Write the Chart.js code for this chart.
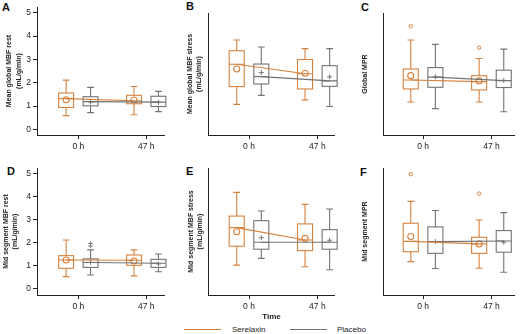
<!DOCTYPE html>
<html>
<head>
<meta charset="utf-8">
<script src="https://cdn.jsdelivr.net/npm/chart.js@4"></script>
<style>
  body { margin: 0; background: #fff; }
  #wrap { position: relative; width: 520px; height: 334px; overflow: hidden; font-family: "Liberation Sans", Arial, sans-serif; }
  canvas { position: absolute; }
  .letter { position: absolute; font-weight: bold; font-size: 11px; line-height: 11px; color: #111; }
  .key { position: absolute; height: 1px; }
  .keytext { position: absolute; font-size: 8px; line-height: 8px; color: #222; }
</style>
</head>
<body>
<div id="wrap">
  <div class="letter" style="left:2px;top:2px">A</div>
  <div class="letter" style="left:186px;top:1px">B</div>
  <div class="letter" style="left:361px;top:2px">C</div>
  <div class="letter" style="left:7px;top:166px">D</div>
  <div class="letter" style="left:186px;top:166px">E</div>
  <div class="letter" style="left:360px;top:167px">F</div>
  <div class="key" style="left:184px;top:329px;width:37px;background:#d6823f"></div>
  <div class="keytext" style="left:232px;top:326px">Serelaxin</div>
  <div class="key" style="left:290px;top:329px;width:37px;background:#737373"></div>
  <div class="keytext" style="left:337px;top:326px">Placebo</div>
</div>
<script>
var timeLabels = ['0 h', '47 h'];
var yTickValues = [0, 1, 2, 3, 4, 5];

// box stats per time point: [lower whisker, Q1, median, Q3, upper whisker]
var restSer = [[0.59, 0.94, 1.32, 1.56, 2.11], [0.63, 1.10, 1.23, 1.46, 1.84]];
var restPla = [[0.72, 1.01, 1.19, 1.40, 1.80], [0.76, 0.98, 1.17, 1.42, 1.63]];
var restSerMean = [1.27, 1.26];
var restPlaMean = [1.17, 1.16];

var stressSer = [[1.05, 1.80, 2.74, 3.31, 3.76], [1.24, 1.70, 2.34, 2.94, 3.40]];
var stressPla = [[1.43, 1.91, 2.22, 2.75, 3.47], [0.96, 1.81, 2.04, 2.68, 3.40]];
var stressSerMean = [2.54, 2.36];
var stressPlaMean = [2.39, 2.21];

var mprSer = [[1.15, 1.70, 2.08, 2.54, 3.76], [1.15, 1.66, 2.01, 2.26, 2.98]];
var mprPla = [[0.87, 1.77, 2.20, 2.60, 3.58], [0.74, 1.76, 2.05, 2.49, 3.38]];
var mprSerMean = [2.26, 2.04];
var mprPlaMean = [2.21, 2.06];
var mprSerOut = [[4.34], [3.44]];

var midRestSer = [[0.51, 0.87, 1.23, 1.42, 2.10], [0.54, 1.00, 1.22, 1.45, 1.67]];
var midRestPla = [[0.58, 0.91, 1.12, 1.28, 1.67], [0.72, 0.91, 1.09, 1.26, 1.49]];
var midRestSerMean = [1.23, 1.19];
var midRestPlaMean = [1.13, 1.06];
var midRestPlaOut = [[1.84, 1.95], []];

var midStressSer = [[1.01, 1.83, 2.64, 3.14, 4.17], [0.94, 1.64, 2.10, 2.80, 3.65]];
var midStressPla = [[1.30, 1.70, 2.00, 2.94, 3.36], [0.81, 1.70, 2.00, 2.55, 3.45]];
var midStressSerMean = [2.46, 2.17];
var midStressPlaMean = [2.20, 2.09];

var midMprSer = [[1.16, 1.59, 2.04, 2.83, 3.78], [0.87, 1.52, 1.93, 2.22, 2.97]];
var midMprPla = [[0.86, 1.52, 2.03, 2.67, 3.38], [0.70, 1.57, 2.06, 2.51, 3.29]];
var midMprSerMean = [2.25, 1.93];
var midMprPlaMean = [2.03, 2.00];
var midMprSerOut = [[4.96], [4.12]];

var noOut = [[], []];

var ORANGE = '#d6823f';
var GRAY = '#737373';
var AXIS = '#222';
var SHIFT = 0.18;     // group offset from the time tick
var HALF = 0.11;      // half box width (x units)

Chart.defaults.font.family = '"Liberation Sans", Arial, sans-serif';

var panels = [
  { ser: restSer, pla: restPla, serMean: restSerMean, plaMean: restPlaMean, serOut: noOut, plaOut: noOut,
    title: ['Mean global MBF rest', '(mL/g/min)'], ticks: true },
  { ser: stressSer, pla: stressPla, serMean: stressSerMean, plaMean: stressPlaMean, serOut: noOut, plaOut: noOut,
    title: ['Mean global MBF stress', '(mL/g/min)'], ticks: false },
  { ser: mprSer, pla: mprPla, serMean: mprSerMean, plaMean: mprPlaMean, serOut: mprSerOut, plaOut: noOut,
    title: 'Global MPR', ticks: false },
  { ser: midRestSer, pla: midRestPla, serMean: midRestSerMean, plaMean: midRestPlaMean, serOut: noOut, plaOut: midRestPlaOut,
    title: ['Mid segment MBF rest', '(mL/g/min)'], ticks: true },
  { ser: midStressSer, pla: midStressPla, serMean: midStressSerMean, plaMean: midStressPlaMean, serOut: noOut, plaOut: noOut,
    title: ['Mid segment MBF stress', '(mL/g/min)'], ticks: false, xTitle: 'Time' },
  { ser: midMprSer, pla: midMprPla, serMean: midMprSerMean, plaMean: midMprPlaMean, serOut: midMprSerOut, plaOut: noOut,
    title: 'Mid segment MPR', ticks: false }
];

// canvas placement and axis geometry per panel
var layouts = [
  { left: 0,   top: 0,   w: 170, h: 155, yW: 37, padTop: 5,  padRight: 3, xH: 20, xMin: -0.609, xMax: 1.275, yMin: -0.24, yMax: 5.24, tPad: 5 },
  { left: 170, top: 0,   w: 170, h: 155, yW: 38, padTop: 13, padRight: 2, xH: 20, xMin: -0.6,   xMax: 1.257, yMin: -0.24, yMax: 4.90, tPad: 15.5 },
  { left: 345, top: 0,   w: 175, h: 155, yW: 38, padTop: 13, padRight: 2, xH: 20, xMin: -0.586, xMax: 1.343, yMin: -0.24, yMax: 4.90, tPad: 15.5 },
  { left: 0,   top: 160, w: 170, h: 174, yW: 37, padTop: 8,  padRight: 3, xH: 39, xMin: -0.609, xMax: 1.275, yMin: -0.29, yMax: 5.23, tPad: 1.5 },
  { left: 170, top: 160, w: 170, h: 174, yW: 38, padTop: 8,  padRight: 2, xH: 39, xMin: -0.6,   xMax: 1.257, yMin: -0.29, yMax: 5.23, tPad: 16.5 },
  { left: 345, top: 160, w: 175, h: 174, yW: 38, padTop: 8,  padRight: 2, xH: 39, xMin: -0.586, xMax: 1.343, yMin: -0.29, yMax: 5.23, tPad: 15.5 }
];

function boxPlugin(groups) {
  return {
    id: 'boxes',
    beforeDatasetsDraw: function (chart) {
      var ctx = chart.ctx, xs = chart.scales.x, ys = chart.scales.y;
      groups.forEach(function (g) {
        g.stats.forEach(function (s, i) {
          var cx = xs.getPixelForValue(i + g.shift);
          var half = xs.getPixelForValue(i + g.shift + HALF) - cx;
          var cap = half * 0.45;
          var lo = ys.getPixelForValue(s[0]), q1 = ys.getPixelForValue(s[1]),
              md = ys.getPixelForValue(s[2]), q3 = ys.getPixelForValue(s[3]),
              hi = ys.getPixelForValue(s[4]);
          ctx.save();
          ctx.strokeStyle = g.color;
          ctx.lineWidth = 1.1;
          ctx.beginPath();
          ctx.moveTo(cx, q1); ctx.lineTo(cx, lo);
          ctx.moveTo(cx, q3); ctx.lineTo(cx, hi);
          ctx.moveTo(cx - cap, lo); ctx.lineTo(cx + cap, lo);
          ctx.moveTo(cx - cap, hi); ctx.lineTo(cx + cap, hi);
          ctx.moveTo(cx - half, md); ctx.lineTo(cx + half, md);
          ctx.stroke();
          ctx.strokeRect(cx - half, q3, 2 * half, q1 - q3);
          ctx.restore();
        });
      });
    }
  };
}

function medianPts(stats, shift) {
  return stats.map(function (s, i) { return { x: i + shift, y: s[2] }; });
}
function valuePts(vals, shift) {
  return vals.map(function (v, i) { return { x: i + shift, y: v }; });
}
function outPts(outs, shift) {
  var pts = [];
  outs.forEach(function (list, i) {
    list.forEach(function (v) { pts.push({ x: i + shift, y: v }); });
  });
  return pts;
}

var wrap = document.getElementById('wrap');

panels.forEach(function (p, k) {
  var L = layouts[k];
  var cv = document.createElement('canvas');
  cv.width = L.w; cv.height = L.h;
  cv.style.left = L.left + 'px'; cv.style.top = L.top + 'px';
  wrap.appendChild(cv);

  new Chart(cv, {
    type: 'scatter',
    data: {
      datasets: [
        { type: 'line', label: 'Serelaxin', data: medianPts(p.ser, -SHIFT), borderColor: ORANGE, borderWidth: 1.1, pointRadius: 0, fill: false },
        { type: 'line', label: 'Placebo', data: medianPts(p.pla, SHIFT), borderColor: GRAY, borderWidth: 1.1, pointRadius: 0, fill: false },
        { label: 'Serelaxin mean', data: valuePts(p.serMean, -SHIFT), pointStyle: 'circle', pointRadius: 3,
          borderColor: ORANGE, backgroundColor: 'rgba(0,0,0,0)', borderWidth: 1.1 },
        { label: 'Placebo mean', data: valuePts(p.plaMean, SHIFT), pointStyle: 'cross', pointRadius: 2.5,
          borderColor: GRAY, borderWidth: 1 },
        { label: 'Serelaxin outliers', data: outPts(p.serOut, -SHIFT), pointStyle: 'circle', pointRadius: 1.7,
          borderColor: ORANGE, backgroundColor: 'rgba(0,0,0,0)', borderWidth: 1 },
        { label: 'Placebo outliers', data: outPts(p.plaOut, SHIFT), pointStyle: 'cross', pointRadius: 2.2,
          borderColor: GRAY, borderWidth: 1 }
      ]
    },
    options: {
      responsive: false,
      animation: false,
      events: [],
      layout: { padding: { top: L.padTop, right: L.padRight, left: 0, bottom: 0 } },
      plugins: { legend: { display: false }, tooltip: { enabled: false } },
      scales: {
        x: {
          type: 'linear', min: L.xMin, max: L.xMax,
          afterBuildTicks: function (s) { s.ticks = timeLabels.map(function (t, i) { return { value: i }; }); },
          afterFit: function (s) { s.height = L.xH; },
          ticks: { callback: function (v, i) { return timeLabels[i]; }, color: AXIS, font: { size: 8.5 }, padding: 3, maxRotation: 0, autoSkip: false },
          grid: { display: true, drawOnChartArea: false, drawTicks: true, tickLength: 4, color: AXIS },
          border: { display: true, color: AXIS, width: 1 },
          title: { display: !!p.xTitle, text: p.xTitle || '', color: AXIS, font: { size: 8, weight: 'bold' }, padding: { top: 0, bottom: 12.5 } }
        },
        y: {
          type: 'linear', min: L.yMin, max: L.yMax,
          afterBuildTicks: function (s) { s.ticks = yTickValues.map(function (v) { return { value: v }; }); },
          afterFit: function (s) { s.width = L.yW; },
          ticks: { display: p.ticks, color: AXIS, font: { size: 8.5 }, padding: 2 },
          grid: { display: p.ticks, drawOnChartArea: false, drawTicks: true, tickLength: 4, color: AXIS },
          border: { display: true, color: AXIS, width: 1 },
          title: { display: true, text: p.title, color: AXIS, font: { size: 7, weight: 'bold', lineHeight: 1.3 }, padding: { top: L.tPad, bottom: 0 } }
        }
      }
    },
    plugins: [boxPlugin([
      { stats: p.ser, shift: -SHIFT, color: ORANGE },
      { stats: p.pla, shift: SHIFT, color: GRAY }
    ])]
  });
});
</script>
</body>
</html>
